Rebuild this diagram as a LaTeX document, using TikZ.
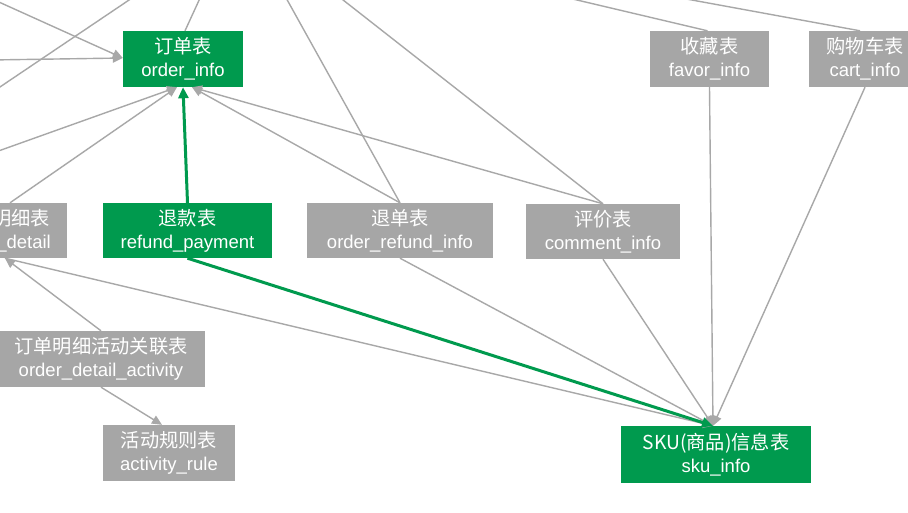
\documentclass[tikz,border=0pt]{standalone}
\usepackage{fontspec}
\setmainfont{Liberation Sans}
\newfontfamily\cjk[Scale=1.04]{Noto Sans CJK SC}
\usetikzlibrary{arrows.meta}
\definecolor{tgreen}{RGB}{0,154,78}
\definecolor{tgray}{RGB}{166,166,166}
\definecolor{lgray}{RGB}{168,168,168}
\tikzset{
  tbl/.style={draw=none, text=white, inner sep=0pt, align=center, minimum height=56pt,
    font=\fontsize{18.5}{23}\selectfont},
  gtbl/.style={tbl, fill=tgray},
  ktbl/.style={tbl, fill=tgreen},
  gl/.style={draw=lgray, line width=1.4pt},
  ga/.style={gl, -{Triangle[length=10pt,width=9pt]}},
  ka/.style={draw=tgreen, line width=3pt, -{Triangle[length=11pt,width=10pt]}},
}
\begin{document}
\begin{tikzpicture}[x=1pt,y=-1pt]
\clip (0,0) rectangle (908,512);
\fill[white] (0,0) rectangle (908,512);
% nodes
\node[ktbl, minimum width=120pt] (oi) at (183,59) {{\cjk 订单表}\\order\_info};
\node[gtbl, minimum width=119pt] (fav) at (709.5,59) {{\cjk 收藏表}\\favor\_info};
\node[gtbl, minimum width=112pt] (cart) at (865,59) {{\cjk 购物车表}\\cart\_info};
\node[gtbl, minimum width=130pt, minimum height=55pt] (od) at (2,230.5) {{\cjk 订单明细表}\\order\_detail};
\node[ktbl, minimum width=169pt, minimum height=55pt] (rp) at (187.5,230.5) {{\cjk 退款表}\\refund\_payment};
\node[gtbl, minimum width=186pt, minimum height=55pt] (ori) at (400,230.5) {{\cjk 退单表}\\order\_refund\_info};
\node[gtbl, minimum width=154pt, minimum height=55pt] (ci) at (603,231.5) {{\cjk 评价表}\\comment\_info};
\node[gtbl, minimum width=208pt] (oda) at (101,359) {{\cjk 订单明细活动关联表}\\order\_detail\_activity};
\node[gtbl, minimum width=132pt] (ar) at (169,453) {{\cjk 活动规则表}\\activity\_rule};
\node[ktbl, minimum width=190pt, minimum height=57pt] (sku) at (716,454.5) {{\cjk SKU(商品)信息表}\\sku\_info};
% off-frame ends
\coordinate (e1) at (-10,-2);
\coordinate (e2) at (-10,60);
\coordinate (e3a) at (135,-4);
\coordinate (e3b) at (-6,91);
\coordinate (e4) at (201,-4);
\coordinate (e5) at (285,-4);
\coordinate (e6) at (338,-4);
\coordinate (e7) at (560,-4);
\coordinate (e8) at (670,-4);
\coordinate (e9) at (-10,154);
% tip points
\coordinate (oiw) at ([yshift=1]oi.west);
\coordinate (oisl) at ([xshift=-6]oi.south);
\coordinate (oisr) at ([xshift=9]oi.south);
\coordinate (skun) at ([xshift=-3]sku.north);
% gray connectors
\draw[ga] (e1) -- (oiw);
\draw[ga] (e2) -- (oiw);
\draw[gl] (e3a) -- (e3b);
\draw[gl] (e4) -- ([xshift=2]oi.north);
\draw[gl] (e5) -- (ori.north);
\draw[gl] (e6) -- (ci.north);
\draw[gl] (e7) -- ([xshift=-2]fav.north);
\draw[gl] (e8) -- ([xshift=-5]cart.north);
\draw[ga] (e9) -- (oisl);
\draw[ga] ([xshift=8]od.north) -- (oisl);
\draw[ga] (ori.north) -- (oisr);
\draw[ga] (ci.north) -- (oisr);
\draw[ga] ([xshift=3]od.south) -- (skun);
\draw[ga] (oda.north) -- ([xshift=3]od.south);
\draw[ga] (ori.south) -- (skun);
\draw[ga] (ci.south) -- (skun);
\draw[ga] (fav.south) -- (skun);
\draw[ga] (cart.south) -- (skun);
\draw[ga] (oda.south) -- ([xshift=-7]ar.north);
% green connectors
\draw[ka] (rp.north) -- (oi.south);
\draw[ka] (rp.south) -- (skun);
\end{tikzpicture}
\end{document}
